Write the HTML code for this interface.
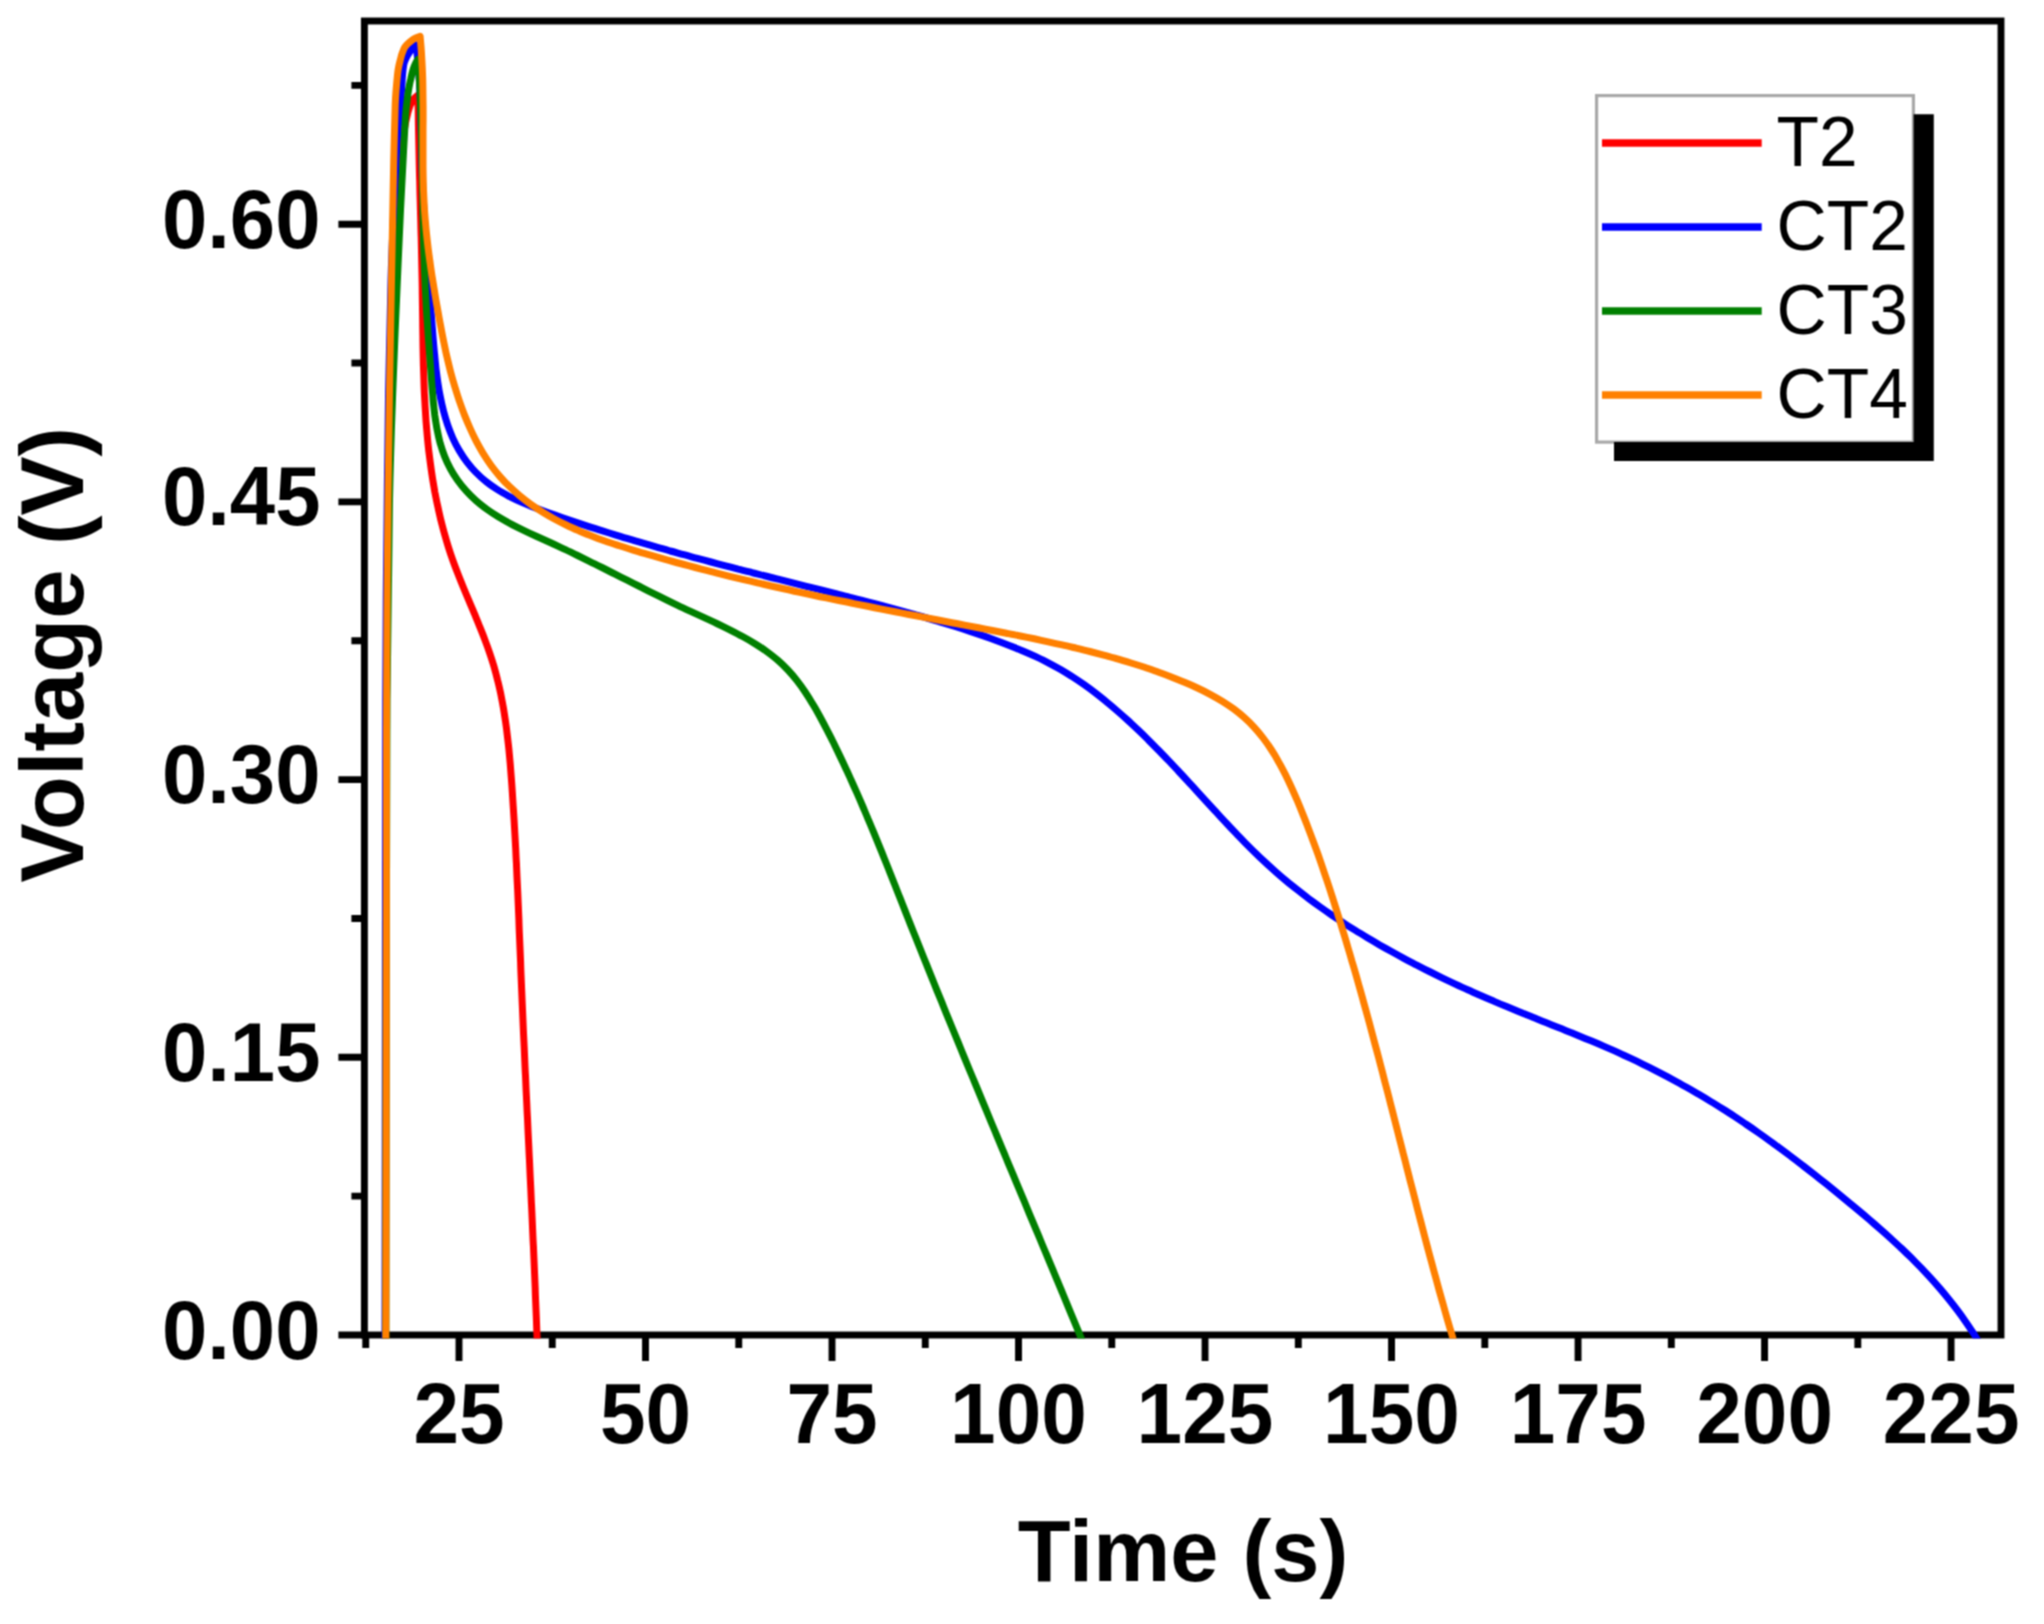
<!DOCTYPE html>
<html lang="en"><head><meta charset="utf-8"><title>Voltage vs Time</title>
<style>
html,body{margin:0;padding:0;background:#fff;}
body{width:2044px;height:1624px;overflow:hidden;}
svg{display:block;}
text{font-family:"Liberation Sans",Arial,Helvetica,sans-serif;fill:#000;}
.tick{font-weight:bold;font-size:82.0px;}
.ytick{font-weight:bold;font-size:81.5px;}
.xt{font-weight:bold;font-size:86.6px;}
.yt{font-weight:bold;font-size:88.5px;}
.leg{font-size:69.5px;}
</style></head><body>
<svg width="2044" height="1624" viewBox="0 0 2044 1624">
<rect x="0" y="0" width="2044" height="1624" fill="#fff"/>
<defs><filter id="soft" x="0" y="0" width="2044" height="1624" filterUnits="userSpaceOnUse" color-interpolation-filters="sRGB"><feConvolveMatrix order="3" kernelMatrix="1 2 1 2 4 2 1 2 1" divisor="16" edgeMode="duplicate" preserveAlpha="true"/></filter></defs>
<g filter="url(#soft)">
<rect x="0" y="0" width="2044" height="1624" fill="#fff"/>
<defs><clipPath id="plot"><rect x="360.9" y="17.6" width="1643.5" height="1320.9"/></clipPath></defs>
<g stroke="#000" fill="none" stroke-linecap="butt">
<rect x="364.40" y="21.00" width="1636.60" height="1314.00" stroke-width="6.90"/>
<path stroke-width="6.90" d="M459.00 1335.00V1361.00M645.51 1335.00V1361.00M832.02 1335.00V1361.00M1018.53 1335.00V1361.00M1205.04 1335.00V1361.00M1391.55 1335.00V1361.00M1578.06 1335.00V1361.00M1764.57 1335.00V1361.00M1951.08 1335.00V1361.00M365.75 1335.00V1348.00M552.25 1335.00V1348.00M738.76 1335.00V1348.00M925.27 1335.00V1348.00M1111.78 1335.00V1348.00M1298.30 1335.00V1348.00M1484.80 1335.00V1348.00M1671.32 1335.00V1348.00M1857.82 1335.00V1348.00M364.40 1335.00H338.40M364.40 1057.30H338.40M364.40 779.60H338.40M364.40 501.90H338.40M364.40 224.20H338.40M364.40 1196.15H351.40M364.40 918.45H351.40M364.40 640.75H351.40M364.40 363.05H351.40M364.40 85.35H351.40"/>
</g>
<g clip-path="url(#plot)" fill="none" stroke-width="7.00" stroke-linejoin="round" stroke-linecap="butt">
<path stroke="#ff0000" d="M385.6 1345.0C385.7 1287.5 385.8 1107.5 386.0 1000.0C386.2 892.5 386.3 780.0 386.6 700.0C386.9 620.0 387.4 571.7 388.0 520.0C388.6 468.3 389.6 426.7 390.5 390.0C391.4 353.3 392.4 328.3 393.5 300.0C394.6 271.7 395.8 242.5 397.0 220.0C398.2 197.5 399.3 179.7 400.5 165.0C401.7 150.3 402.8 140.8 404.0 132.0C405.2 123.2 406.6 117.2 408.0 112.0C409.4 106.8 410.9 103.2 412.5 100.5C414.1 97.8 416.7 96.3 417.5 95.5C417.6 97.9 418.0 105.0 418.2 109.7C418.3 114.4 418.3 119.2 418.4 123.9C418.5 128.7 418.6 133.4 418.7 138.1C418.8 142.9 418.9 147.6 419.0 152.3C419.1 157.0 419.2 161.8 419.3 166.5C419.4 171.2 419.5 175.9 419.7 180.6C419.8 185.4 419.9 190.1 420.0 194.8C420.2 199.5 420.3 204.2 420.4 208.9C420.5 213.6 420.7 218.4 420.8 223.1C420.9 227.8 421.0 232.5 421.2 237.2C421.3 241.9 421.4 246.7 421.5 251.4C421.6 256.1 421.7 260.8 421.8 265.6C421.9 270.3 422.0 275.0 422.1 279.7C422.2 284.5 422.3 289.2 422.3 293.9C422.4 298.7 422.4 303.4 422.5 308.2C422.6 312.9 422.6 317.7 422.7 322.4C422.7 327.2 422.8 331.9 422.9 336.7C422.9 341.4 423.0 346.2 423.1 350.9C423.2 355.7 423.3 360.4 423.4 365.2C423.6 369.9 423.7 374.7 423.9 379.4C424.0 384.2 424.2 388.9 424.4 393.6C424.7 398.4 424.9 403.1 425.2 407.8C425.5 412.6 425.8 417.3 426.1 422.0C426.5 426.7 426.9 431.5 427.3 436.2C427.7 440.9 428.2 445.6 428.7 450.3C429.3 455.0 429.9 459.7 430.5 464.3C431.1 469.0 431.8 473.7 432.5 478.3C433.3 483.0 434.1 487.6 434.9 492.3C435.8 496.9 436.7 501.5 437.7 506.1C438.7 510.7 439.7 515.3 440.8 519.9C442.0 524.5 443.1 529.0 444.4 533.5C445.7 538.1 447.0 542.6 448.4 547.1C449.8 551.6 451.3 556.1 452.9 560.5C454.5 565.0 456.2 569.4 457.9 573.8C459.6 578.2 461.4 582.6 463.2 587.0C465.0 591.4 466.8 595.7 468.7 600.1C470.5 604.5 472.4 608.9 474.2 613.2C476.0 617.6 477.9 622.0 479.6 626.4C481.4 630.8 483.2 635.2 484.8 639.6C486.5 644.0 488.1 648.4 489.6 652.9C491.1 657.3 492.6 661.8 493.9 666.3C495.2 670.8 496.4 675.3 497.5 679.9C498.7 684.4 499.7 689.0 500.7 693.6C501.6 698.2 502.5 702.8 503.3 707.4C504.1 712.0 504.8 716.7 505.5 721.3C506.2 726.0 506.8 730.7 507.3 735.3C507.9 740.0 508.4 744.7 508.9 749.4C509.3 754.1 509.8 758.8 510.2 763.5C510.6 768.3 510.9 773.0 511.3 777.7C511.7 782.4 512.0 787.2 512.3 791.9C512.6 796.6 512.9 801.3 513.2 806.1C513.5 810.8 513.8 815.5 514.1 820.3C514.4 825.0 514.6 829.7 514.9 834.4C515.2 839.2 515.4 843.9 515.7 848.6C515.9 853.4 516.1 858.1 516.4 862.8C516.6 867.6 516.8 872.3 517.0 877.0C517.2 881.8 517.5 886.5 517.7 891.2C517.9 896.0 518.1 900.7 518.3 905.4C518.5 910.2 518.7 914.9 518.9 919.7C519.0 924.4 519.2 929.1 519.4 933.9C519.6 938.6 519.8 943.3 520.0 948.0C520.2 952.8 520.4 957.5 520.6 962.2C520.7 967.0 520.9 971.7 521.1 976.4C521.3 981.2 521.5 985.9 521.7 990.6C521.9 995.4 522.1 1000.1 522.3 1004.8C522.5 1009.5 522.7 1014.3 522.9 1019.0C523.1 1023.7 523.3 1028.4 523.5 1033.2C523.7 1037.9 524.0 1042.6 524.2 1047.3C524.4 1052.1 524.6 1056.8 524.8 1061.5C525.0 1066.2 525.2 1071.0 525.5 1075.7C525.7 1080.4 525.9 1085.1 526.1 1089.9C526.3 1094.6 526.6 1099.3 526.8 1104.0C527.0 1108.7 527.2 1113.5 527.5 1118.2C527.7 1122.9 527.9 1127.6 528.1 1132.3C528.3 1137.1 528.6 1141.8 528.8 1146.5C529.0 1151.2 529.2 1156.0 529.5 1160.7C529.7 1165.4 529.9 1170.1 530.1 1174.8C530.3 1179.6 530.6 1184.3 530.8 1189.0C531.0 1193.7 531.2 1198.5 531.4 1203.2C531.7 1207.9 531.9 1212.6 532.1 1217.3C532.3 1222.1 532.5 1226.8 532.7 1231.5C532.9 1236.2 533.1 1241.0 533.4 1245.7C533.6 1250.4 533.8 1255.1 534.0 1259.9C534.2 1264.6 534.4 1269.3 534.6 1274.1C534.8 1278.8 535.0 1283.5 535.2 1288.2C535.3 1293.0 535.5 1297.7 535.7 1302.4C535.9 1307.2 536.1 1311.9 536.3 1316.6C536.5 1321.4 536.6 1326.1 536.8 1330.8C537.0 1335.6 537.2 1342.7 537.3 1345.0"/>
<path stroke="#0000ff" d="M385.0 1345.0C385.1 1287.5 385.3 1107.5 385.4 1000.0C385.5 892.5 385.5 775.0 385.7 700.0C385.9 625.0 386.2 601.7 386.7 550.0C387.2 498.3 387.9 435.0 388.6 390.0C389.3 345.0 390.1 311.7 391.0 280.0C391.9 248.3 393.2 223.3 394.2 200.0C395.2 176.7 396.1 156.7 397.2 140.0C398.3 123.3 399.9 111.0 400.8 100.0C401.7 89.0 402.1 80.2 402.6 74.3C403.1 68.4 403.3 67.0 403.8 64.4C404.3 61.9 404.9 60.7 405.7 59.0C406.5 57.3 407.3 55.8 408.4 54.0C409.5 52.2 411.0 49.7 412.2 48.2C413.4 46.7 415.2 45.5 415.8 44.9C416.1 47.2 417.2 54.2 417.7 58.8C418.2 63.5 418.5 68.2 418.9 72.9C419.2 77.5 419.5 82.2 419.7 86.9C420.0 91.6 420.2 96.3 420.4 101.1C420.6 105.8 420.7 110.5 420.8 115.2C421.0 119.9 421.1 124.6 421.2 129.4C421.3 134.1 421.4 138.8 421.5 143.5C421.6 148.3 421.7 153.0 421.8 157.7C421.9 162.4 422.0 167.1 422.2 171.9C422.3 176.6 422.5 181.3 422.7 186.0C422.9 190.7 423.1 195.4 423.4 200.1C423.6 204.8 423.9 209.4 424.1 214.1C424.4 218.8 424.7 223.5 425.0 228.1C425.3 232.8 425.6 237.5 426.0 242.1C426.3 246.8 426.6 251.5 427.0 256.1C427.3 260.8 427.6 265.4 428.0 270.1C428.3 274.7 428.7 279.4 429.0 284.0C429.3 288.7 429.7 293.3 430.0 298.0C430.4 302.6 430.7 307.3 431.1 312.0C431.4 316.6 431.8 321.3 432.2 326.0C432.6 330.7 432.9 335.4 433.3 340.2C433.7 344.9 434.1 349.7 434.6 354.4C435.0 359.2 435.5 364.0 436.0 368.8C436.6 373.6 437.2 378.3 437.9 383.1C438.6 387.9 439.4 392.6 440.4 397.3C441.3 402.0 442.4 406.8 443.6 411.4C444.8 416.0 446.2 420.6 447.7 425.1C449.3 429.6 451.0 434.0 452.9 438.3C454.8 442.5 457.0 446.7 459.3 450.6C461.7 454.6 464.2 458.4 467.0 462.1C469.8 465.7 472.7 469.2 475.9 472.4C479.1 475.7 482.4 478.7 486.0 481.5C489.5 484.4 493.3 487.0 497.1 489.4C501.0 491.9 505.0 494.1 509.1 496.3C513.3 498.4 517.5 500.4 521.8 502.3C526.1 504.2 530.6 506.0 535.0 507.7C539.4 509.4 543.9 511.1 548.4 512.7C552.9 514.3 557.4 515.9 561.9 517.5C566.4 519.0 570.9 520.6 575.4 522.1C579.9 523.6 584.4 525.1 588.9 526.6C593.4 528.0 597.9 529.5 602.5 530.9C607.0 532.3 611.5 533.7 616.0 535.1C620.5 536.5 625.0 537.9 629.5 539.2C634.1 540.6 638.6 541.9 643.1 543.2C647.6 544.6 652.1 545.9 656.7 547.2C661.2 548.4 665.7 549.7 670.2 551.0C674.8 552.2 679.3 553.5 683.8 554.7C688.3 556.0 692.9 557.2 697.4 558.4C701.9 559.6 706.5 560.8 711.0 562.0C715.5 563.2 720.1 564.4 724.6 565.6C729.1 566.7 733.7 567.9 738.2 569.1C742.8 570.2 747.3 571.4 751.9 572.6C756.4 573.7 760.9 574.9 765.5 576.0C770.0 577.2 774.6 578.3 779.1 579.4C783.7 580.6 788.2 581.7 792.8 582.9C797.3 584.0 801.9 585.2 806.4 586.3C811.0 587.4 815.6 588.6 820.1 589.7C824.7 590.9 829.2 592.0 833.8 593.2C838.4 594.3 842.9 595.5 847.5 596.7C852.0 597.8 856.6 599.0 861.2 600.2C865.7 601.4 870.3 602.6 874.9 603.7C879.5 604.9 884.0 606.1 888.6 607.4C893.2 608.6 897.7 609.8 902.3 611.1C906.8 612.3 911.4 613.6 915.9 614.9C920.5 616.1 925.0 617.4 929.6 618.8C934.1 620.1 938.6 621.4 943.2 622.8C947.7 624.2 952.2 625.6 956.7 627.0C961.2 628.4 965.7 629.9 970.1 631.4C974.6 632.9 979.1 634.4 983.5 635.9C987.9 637.5 992.4 639.1 996.8 640.7C1001.2 642.3 1005.6 644.0 1009.9 645.7C1014.3 647.4 1018.6 649.2 1022.9 651.0C1027.2 652.8 1031.5 654.7 1035.8 656.7C1040.0 658.7 1044.2 660.7 1048.3 662.8C1052.5 665.0 1056.6 667.2 1060.6 669.5C1064.6 671.9 1068.6 674.3 1072.6 676.9C1076.5 679.4 1080.3 682.0 1084.2 684.7C1088.0 687.4 1091.8 690.2 1095.5 693.1C1099.2 696.0 1102.9 698.9 1106.5 701.9C1110.2 704.9 1113.8 707.9 1117.3 711.0C1120.9 714.1 1124.4 717.2 1127.9 720.4C1131.3 723.6 1134.8 726.8 1138.2 730.1C1141.6 733.3 1145.0 736.6 1148.3 739.9C1151.7 743.3 1155.0 746.6 1158.3 750.0C1161.6 753.4 1164.9 756.8 1168.1 760.2C1171.4 763.6 1174.6 767.0 1177.9 770.5C1181.1 773.9 1184.3 777.4 1187.5 780.9C1190.7 784.3 1193.9 787.8 1197.1 791.3C1200.3 794.8 1203.5 798.3 1206.7 801.8C1209.9 805.3 1213.1 808.8 1216.3 812.2C1219.4 815.7 1222.6 819.2 1225.9 822.6C1229.1 826.1 1232.3 829.5 1235.6 832.9C1238.8 836.3 1242.1 839.7 1245.4 843.1C1248.7 846.4 1252.0 849.7 1255.4 853.0C1258.7 856.3 1262.1 859.5 1265.6 862.7C1269.0 865.9 1272.5 869.0 1276.0 872.1C1279.5 875.2 1283.1 878.3 1286.7 881.3C1290.3 884.3 1294.0 887.2 1297.7 890.1C1301.3 893.0 1305.1 895.9 1308.8 898.7C1312.6 901.5 1316.4 904.2 1320.2 907.0C1324.0 909.7 1327.9 912.4 1331.7 915.0C1335.6 917.6 1339.5 920.2 1343.5 922.8C1347.4 925.4 1351.4 927.9 1355.4 930.4C1359.4 932.9 1363.4 935.3 1367.4 937.7C1371.5 940.1 1375.5 942.5 1379.6 944.9C1383.7 947.2 1387.8 949.5 1391.9 951.8C1396.0 954.1 1400.2 956.4 1404.3 958.6C1408.5 960.8 1412.6 963.0 1416.8 965.1C1421.0 967.3 1425.2 969.4 1429.4 971.5C1433.6 973.6 1437.8 975.7 1442.1 977.8C1446.3 979.8 1450.6 981.8 1454.8 983.8C1459.1 985.8 1463.4 987.8 1467.7 989.7C1472.0 991.7 1476.3 993.6 1480.6 995.5C1484.9 997.4 1489.2 999.3 1493.6 1001.1C1497.9 1003.0 1502.2 1004.8 1506.6 1006.6C1510.9 1008.4 1515.3 1010.2 1519.7 1012.0C1524.0 1013.8 1528.4 1015.5 1532.8 1017.3C1537.1 1019.0 1541.5 1020.8 1545.9 1022.5C1550.3 1024.3 1554.6 1026.0 1559.0 1027.8C1563.4 1029.5 1567.7 1031.3 1572.1 1033.0C1576.4 1034.8 1580.8 1036.6 1585.1 1038.4C1589.5 1040.2 1593.8 1042.0 1598.2 1043.8C1602.5 1045.7 1606.8 1047.5 1611.1 1049.4C1615.4 1051.3 1619.7 1053.3 1623.9 1055.2C1628.2 1057.2 1632.4 1059.2 1636.7 1061.2C1640.9 1063.3 1645.1 1065.3 1649.3 1067.4C1653.5 1069.6 1657.7 1071.7 1661.9 1073.9C1666.0 1076.0 1670.2 1078.2 1674.3 1080.5C1678.4 1082.7 1682.5 1085.0 1686.6 1087.3C1690.7 1089.6 1694.8 1092.0 1698.8 1094.3C1702.9 1096.7 1706.9 1099.1 1710.9 1101.6C1714.9 1104.0 1718.9 1106.5 1722.9 1109.0C1726.9 1111.5 1730.8 1114.1 1734.8 1116.6C1738.7 1119.2 1742.6 1121.8 1746.5 1124.5C1750.4 1127.1 1754.3 1129.8 1758.1 1132.5C1762.0 1135.2 1765.8 1137.9 1769.6 1140.7C1773.4 1143.4 1777.2 1146.2 1781.0 1149.0C1784.8 1151.8 1788.6 1154.6 1792.3 1157.5C1796.1 1160.3 1799.8 1163.2 1803.6 1166.1C1807.3 1169.0 1811.0 1171.9 1814.7 1174.8C1818.4 1177.7 1822.1 1180.7 1825.8 1183.6C1829.5 1186.6 1833.1 1189.5 1836.8 1192.5C1840.4 1195.5 1844.1 1198.5 1847.7 1201.5C1851.4 1204.5 1855.0 1207.5 1858.6 1210.5C1862.2 1213.5 1865.8 1216.6 1869.4 1219.6C1872.9 1222.7 1876.5 1225.8 1880.0 1228.9C1883.6 1232.0 1887.1 1235.1 1890.5 1238.3C1894.0 1241.5 1897.4 1244.6 1900.9 1247.9C1904.3 1251.1 1907.6 1254.3 1911.0 1257.6C1914.3 1260.9 1917.6 1264.3 1920.9 1267.6C1924.1 1271.0 1927.3 1274.4 1930.5 1277.9C1933.6 1281.3 1936.7 1284.8 1939.8 1288.4C1942.9 1292.0 1945.9 1295.6 1948.8 1299.2C1951.8 1302.9 1954.7 1306.6 1957.5 1310.4C1960.3 1314.1 1963.1 1318.0 1965.8 1321.9C1968.5 1325.7 1971.1 1329.7 1973.7 1333.7C1976.2 1337.7 1979.9 1344.0 1981.1 1346.0"/>
<path stroke="#008000" d="M385.8 1345.0C385.9 1287.5 386.0 1107.5 386.2 1000.0C386.4 892.5 386.4 783.3 387.0 700.0C387.6 616.7 388.5 552.5 389.5 500.0C390.5 447.5 391.8 418.3 393.0 385.0C394.2 351.7 395.2 329.2 396.5 300.0C397.8 270.8 399.3 235.0 400.5 210.0C401.7 185.0 402.8 165.8 403.6 150.0C404.5 134.2 405.0 123.5 405.6 115.0C406.2 106.5 406.8 103.3 407.3 99.0C407.8 94.7 408.1 92.3 408.7 89.0C409.3 85.7 409.9 82.5 410.7 79.2C411.4 75.9 412.4 72.0 413.2 69.3C414.0 66.6 414.8 64.9 415.6 63.3C416.4 61.7 417.4 60.1 417.8 59.5C418.0 61.9 418.6 68.9 419.0 73.6C419.3 78.4 419.5 83.1 419.8 87.8C420.0 92.5 420.2 97.3 420.4 102.0C420.6 106.7 420.8 111.5 420.9 116.2C421.1 121.0 421.2 125.7 421.4 130.4C421.5 135.2 421.6 139.9 421.7 144.7C421.8 149.4 421.9 154.2 422.0 158.9C422.1 163.7 422.2 168.4 422.3 173.2C422.4 177.9 422.4 182.6 422.5 187.4C422.6 192.1 422.7 196.9 422.8 201.6C422.8 206.4 422.9 211.1 423.0 215.8C423.1 220.6 423.2 225.3 423.3 230.0C423.4 234.8 423.5 239.5 423.6 244.2C423.8 249.0 423.9 253.7 424.1 258.4C424.2 263.1 424.4 267.8 424.6 272.5C424.8 277.2 425.0 281.9 425.2 286.6C425.5 291.3 425.7 296.0 426.0 300.7C426.2 305.4 426.5 310.1 426.8 314.8C427.1 319.5 427.5 324.2 427.8 328.9C428.1 333.6 428.4 338.4 428.8 343.1C429.1 347.8 429.5 352.6 429.8 357.3C430.2 362.1 430.6 366.9 430.9 371.7C431.3 376.5 431.6 381.4 432.0 386.2C432.4 391.1 432.8 395.9 433.2 400.8C433.7 405.6 434.2 410.5 434.8 415.3C435.5 420.0 436.2 424.8 437.1 429.5C438.0 434.1 439.0 438.8 440.2 443.3C441.5 447.7 442.9 452.2 444.6 456.4C446.3 460.7 448.2 464.8 450.4 468.8C452.5 472.8 455.0 476.6 457.6 480.3C460.2 484.0 463.1 487.5 466.2 490.9C469.2 494.3 472.5 497.5 476.0 500.6C479.4 503.6 483.1 506.5 486.9 509.3C490.6 512.0 494.6 514.6 498.7 517.1C502.7 519.5 506.9 521.9 511.2 524.1C515.4 526.4 519.8 528.5 524.2 530.6C528.5 532.7 533.0 534.8 537.4 536.8C541.8 538.8 546.3 540.8 550.7 542.8C555.1 544.8 559.4 546.9 563.7 548.9C568.1 550.9 572.4 553.0 576.6 555.0C580.9 557.1 585.2 559.2 589.4 561.3C593.6 563.3 597.8 565.4 602.0 567.5C606.2 569.6 610.4 571.7 614.6 573.9C618.8 576.0 622.9 578.1 627.1 580.2C631.3 582.3 635.5 584.4 639.7 586.5C643.8 588.6 648.0 590.8 652.2 592.9C656.4 594.9 660.7 597.0 664.9 599.1C669.1 601.2 673.4 603.3 677.7 605.3C682.0 607.4 686.3 609.4 690.6 611.4C695.0 613.4 699.3 615.4 703.7 617.4C708.1 619.4 712.4 621.5 716.8 623.5C721.1 625.6 725.5 627.7 729.8 629.8C734.1 632.0 738.4 634.2 742.6 636.5C746.8 638.8 751.0 641.2 755.0 643.7C759.0 646.2 763.0 648.8 766.7 651.5C770.5 654.3 774.2 657.1 777.7 660.2C781.2 663.2 784.5 666.5 787.7 669.8C790.9 673.2 793.9 676.7 796.8 680.4C799.6 684.0 802.4 687.8 805.0 691.7C807.6 695.6 810.1 699.6 812.5 703.7C815.0 707.7 817.3 711.8 819.6 716.0C821.9 720.2 824.1 724.4 826.3 728.6C828.5 732.8 830.6 737.1 832.8 741.3C834.9 745.6 837.0 749.9 839.0 754.1C841.1 758.4 843.1 762.7 845.1 767.0C847.2 771.3 849.1 775.6 851.1 780.0C853.0 784.3 855.0 788.6 856.9 792.9C858.8 797.3 860.7 801.6 862.6 806.0C864.4 810.3 866.3 814.7 868.1 819.1C870.0 823.4 871.8 827.8 873.6 832.2C875.4 836.6 877.2 841.0 879.0 845.4C880.8 849.7 882.6 854.1 884.3 858.5C886.1 862.9 887.9 867.3 889.6 871.7C891.4 876.1 893.1 880.5 894.9 885.0C896.6 889.4 898.3 893.8 900.1 898.2C901.8 902.6 903.6 907.0 905.3 911.4C907.0 915.8 908.8 920.2 910.5 924.6C912.3 929.0 914.0 933.4 915.8 937.8C917.5 942.2 919.3 946.6 921.1 951.0C922.8 955.4 924.6 959.8 926.4 964.2C928.1 968.6 929.9 973.0 931.7 977.4C933.5 981.8 935.2 986.2 937.0 990.6C938.8 995.0 940.6 999.3 942.4 1003.7C944.1 1008.1 945.9 1012.5 947.7 1016.9C949.5 1021.3 951.3 1025.7 953.1 1030.0C954.9 1034.4 956.7 1038.8 958.5 1043.2C960.3 1047.6 962.1 1051.9 963.9 1056.3C965.7 1060.7 967.5 1065.1 969.3 1069.5C971.1 1073.8 973.0 1078.2 974.8 1082.6C976.6 1087.0 978.4 1091.4 980.2 1095.7C982.0 1100.1 983.8 1104.5 985.7 1108.9C987.5 1113.2 989.3 1117.6 991.1 1122.0C992.9 1126.3 994.8 1130.7 996.6 1135.1C998.4 1139.5 1000.2 1143.8 1002.0 1148.2C1003.9 1152.6 1005.7 1157.0 1007.5 1161.3C1009.3 1165.7 1011.2 1170.1 1013.0 1174.4C1014.8 1178.8 1016.6 1183.2 1018.5 1187.6C1020.3 1191.9 1022.1 1196.3 1024.0 1200.7C1025.8 1205.0 1027.6 1209.4 1029.4 1213.8C1031.3 1218.2 1033.1 1222.5 1034.9 1226.9C1036.7 1231.3 1038.6 1235.6 1040.4 1240.0C1042.2 1244.4 1044.0 1248.8 1045.9 1253.1C1047.7 1257.5 1049.5 1261.9 1051.3 1266.2C1053.2 1270.6 1055.0 1275.0 1056.8 1279.4C1058.6 1283.7 1060.4 1288.1 1062.3 1292.5C1064.1 1296.9 1065.9 1301.3 1067.7 1305.6C1069.5 1310.0 1071.3 1314.4 1073.2 1318.8C1075.0 1323.1 1076.8 1327.5 1078.6 1331.9C1080.4 1336.3 1083.1 1342.9 1084.0 1345.0"/>
<path stroke="#ff8000" d="M385.8 1345.0C385.9 1270.8 386.3 1007.5 386.4 900.0C386.5 792.5 386.4 758.3 386.6 700.0C386.8 641.7 387.0 601.7 387.5 550.0C388.0 498.3 388.8 435.0 389.5 390.0C390.2 345.0 390.9 311.7 391.5 280.0C392.1 248.3 392.6 221.7 393.0 200.0C393.4 178.3 393.6 165.8 394.0 150.0C394.4 134.2 394.8 115.2 395.2 105.0C395.6 94.8 395.7 95.0 396.2 89.0C396.7 83.0 397.4 74.5 398.2 69.3C399.0 64.1 400.1 60.9 400.8 58.0C401.5 55.1 401.9 53.9 402.6 52.1C403.3 50.3 403.9 48.6 404.8 47.2C405.7 45.8 406.8 44.6 408.0 43.5C409.2 42.4 410.6 41.2 411.9 40.3C413.2 39.3 414.5 38.5 415.9 37.8C417.3 37.1 419.4 36.5 420.1 36.3C420.3 38.7 421.0 45.7 421.3 50.4C421.6 55.1 421.9 59.8 422.1 64.5C422.4 69.2 422.5 74.0 422.7 78.7C422.8 83.4 422.9 88.1 422.9 92.8C423.0 97.6 423.0 102.3 423.1 107.0C423.1 111.8 423.1 116.5 423.1 121.2C423.0 126.0 423.0 130.7 423.0 135.4C423.0 140.2 423.0 144.9 423.0 149.6C423.0 154.4 423.0 159.1 423.0 163.8C423.0 168.6 423.1 173.3 423.2 178.0C423.3 182.8 423.4 187.5 423.6 192.2C423.8 196.9 424.0 201.6 424.3 206.4C424.5 211.1 424.9 215.8 425.3 220.5C425.7 225.2 426.1 229.9 426.6 234.6C427.1 239.2 427.6 243.9 428.2 248.6C428.8 253.3 429.4 258.0 430.1 262.6C430.7 267.3 431.4 271.9 432.1 276.6C432.9 281.3 433.6 285.9 434.4 290.5C435.1 295.2 435.9 299.8 436.7 304.4C437.6 309.1 438.4 313.7 439.2 318.3C440.1 322.9 440.9 327.5 441.8 332.1C442.7 336.7 443.6 341.3 444.6 345.9C445.5 350.5 446.5 355.1 447.6 359.6C448.7 364.2 449.8 368.8 451.0 373.4C452.2 378.0 453.5 382.5 454.9 387.1C456.3 391.7 457.7 396.3 459.3 400.9C460.9 405.4 462.5 410.0 464.3 414.6C466.1 419.1 468.0 423.7 470.0 428.1C472.0 432.6 474.1 437.0 476.3 441.3C478.6 445.5 480.9 449.8 483.4 453.8C485.9 457.9 488.6 461.9 491.3 465.7C494.1 469.5 497.0 473.1 500.0 476.6C503.0 480.1 506.2 483.4 509.5 486.6C512.8 489.8 516.2 492.8 519.7 495.7C523.2 498.6 526.8 501.4 530.5 504.1C534.2 506.8 538.1 509.3 542.0 511.7C545.9 514.1 549.9 516.5 553.9 518.7C558.0 520.9 562.1 523.0 566.3 525.0C570.5 527.1 574.8 529.0 579.1 530.9C583.5 532.7 587.9 534.5 592.3 536.2C596.7 538.0 601.2 539.6 605.7 541.2C610.2 542.8 614.8 544.3 619.3 545.8C623.9 547.3 628.5 548.7 633.1 550.1C637.7 551.5 642.3 552.9 646.9 554.2C651.5 555.6 656.1 556.9 660.8 558.2C665.4 559.5 670.0 560.8 674.6 562.0C679.2 563.3 683.8 564.5 688.4 565.7C693.0 567.0 697.6 568.2 702.2 569.3C706.8 570.5 711.4 571.7 716.0 572.8C720.6 574.0 725.2 575.1 729.8 576.3C734.4 577.4 739.0 578.5 743.6 579.6C748.2 580.7 752.8 581.7 757.4 582.8C762.0 583.9 766.6 584.9 771.1 586.0C775.7 587.0 780.3 588.0 784.9 589.0C789.5 590.1 794.1 591.1 798.7 592.1C803.3 593.1 807.9 594.0 812.5 595.0C817.0 596.0 821.6 597.0 826.2 597.9C830.8 598.9 835.4 599.8 840.0 600.8C844.6 601.7 849.2 602.6 853.8 603.6C858.4 604.5 863.0 605.4 867.6 606.3C872.2 607.2 876.8 608.2 881.4 609.1C886.0 610.0 890.6 610.9 895.2 611.8C899.8 612.7 904.4 613.6 909.0 614.5C913.6 615.4 918.3 616.2 922.9 617.1C927.5 618.0 932.1 618.9 936.7 619.8C941.4 620.7 946.0 621.6 950.6 622.5C955.3 623.3 959.9 624.2 964.5 625.1C969.2 626.0 973.8 626.9 978.4 627.8C983.1 628.7 987.7 629.6 992.4 630.5C997.0 631.4 1001.7 632.3 1006.4 633.2C1011.0 634.1 1015.7 635.0 1020.3 636.0C1025.0 636.9 1029.6 637.9 1034.3 638.8C1038.9 639.8 1043.6 640.8 1048.2 641.8C1052.9 642.8 1057.5 643.8 1062.2 644.9C1066.8 645.9 1071.4 647.0 1076.1 648.1C1080.7 649.2 1085.3 650.3 1089.9 651.5C1094.5 652.7 1099.1 653.9 1103.7 655.1C1108.3 656.3 1112.8 657.6 1117.4 658.9C1122.0 660.2 1126.5 661.6 1131.0 663.0C1135.6 664.4 1140.1 665.8 1144.6 667.3C1149.1 668.8 1153.5 670.4 1158.0 672.0C1162.5 673.6 1166.9 675.2 1171.3 676.9C1175.7 678.7 1180.1 680.4 1184.5 682.3C1188.9 684.1 1193.2 686.0 1197.5 688.0C1201.8 690.0 1206.0 692.1 1210.1 694.3C1214.2 696.5 1218.3 698.8 1222.2 701.2C1226.2 703.7 1230.0 706.2 1233.7 708.9C1237.4 711.7 1241.0 714.6 1244.4 717.6C1247.9 720.7 1251.1 723.9 1254.2 727.3C1257.4 730.7 1260.3 734.3 1263.1 738.0C1265.9 741.7 1268.6 745.5 1271.2 749.5C1273.8 753.4 1276.2 757.5 1278.5 761.7C1280.9 765.8 1283.1 770.1 1285.3 774.4C1287.4 778.7 1289.5 783.1 1291.5 787.5C1293.5 791.9 1295.4 796.3 1297.3 800.7C1299.2 805.2 1301.0 809.6 1302.8 814.1C1304.6 818.5 1306.3 823.0 1308.0 827.4C1309.7 831.8 1311.4 836.3 1313.0 840.7C1314.7 845.2 1316.3 849.6 1317.9 854.0C1319.4 858.5 1321.0 862.9 1322.5 867.4C1324.0 871.8 1325.5 876.3 1327.0 880.7C1328.5 885.2 1330.0 889.7 1331.4 894.1C1332.9 898.6 1334.3 903.1 1335.7 907.6C1337.1 912.1 1338.6 916.6 1339.9 921.1C1341.3 925.6 1342.7 930.1 1344.1 934.6C1345.5 939.1 1346.8 943.6 1348.1 948.1C1349.5 952.6 1350.8 957.1 1352.1 961.7C1353.5 966.2 1354.8 970.7 1356.1 975.2C1357.4 979.8 1358.6 984.3 1359.9 988.8C1361.2 993.4 1362.5 997.9 1363.7 1002.5C1365.0 1007.0 1366.2 1011.6 1367.5 1016.1C1368.7 1020.7 1370.0 1025.2 1371.2 1029.8C1372.4 1034.4 1373.6 1038.9 1374.8 1043.5C1376.1 1048.1 1377.3 1052.6 1378.5 1057.2C1379.7 1061.8 1380.9 1066.3 1382.1 1070.9C1383.3 1075.5 1384.4 1080.1 1385.6 1084.6C1386.8 1089.2 1388.0 1093.8 1389.2 1098.4C1390.3 1103.0 1391.5 1107.5 1392.7 1112.1C1393.9 1116.7 1395.0 1121.3 1396.2 1125.9C1397.4 1130.4 1398.5 1135.0 1399.7 1139.6C1400.9 1144.2 1402.1 1148.8 1403.2 1153.4C1404.4 1157.9 1405.6 1162.5 1406.7 1167.1C1407.9 1171.7 1409.1 1176.3 1410.2 1180.8C1411.4 1185.4 1412.6 1190.0 1413.8 1194.6C1415.0 1199.2 1416.1 1203.7 1417.3 1208.3C1418.5 1212.9 1419.7 1217.5 1420.9 1222.0C1422.1 1226.6 1423.3 1231.2 1424.5 1235.8C1425.7 1240.3 1426.9 1244.9 1428.1 1249.5C1429.3 1254.0 1430.6 1258.6 1431.8 1263.1C1433.0 1267.7 1434.2 1272.3 1435.5 1276.8C1436.7 1281.4 1438.0 1285.9 1439.2 1290.5C1440.5 1295.0 1441.8 1299.5 1443.1 1304.1C1444.3 1308.6 1445.6 1313.2 1446.9 1317.7C1448.2 1322.2 1449.5 1326.7 1450.9 1331.3C1452.2 1335.8 1454.2 1342.6 1454.9 1344.8"/>
</g>
<g class="tick" text-anchor="middle">
<text transform="translate(459.0 1443.0) scale(1 1.035)">25</text>
<text transform="translate(645.5 1443.0) scale(1 1.035)">50</text>
<text transform="translate(832.0 1443.0) scale(1 1.035)">75</text>
<text transform="translate(1018.5 1443.0) scale(1 1.035)">100</text>
<text transform="translate(1205.0 1443.0) scale(1 1.035)">125</text>
<text transform="translate(1391.5 1443.0) scale(1 1.035)">150</text>
<text transform="translate(1578.1 1443.0) scale(1 1.035)">175</text>
<text transform="translate(1764.6 1443.0) scale(1 1.035)">200</text>
<text transform="translate(1951.1 1443.0) scale(1 1.035)">225</text>
</g>
<g class="ytick" text-anchor="end">
<text transform="translate(320.5 1358.5) scale(1 1.035)">0.00</text>
<text transform="translate(320.5 1080.8) scale(1 1.035)">0.15</text>
<text transform="translate(320.5 803.1) scale(1 1.035)">0.30</text>
<text transform="translate(320.5 525.4) scale(1 1.035)">0.45</text>
<text transform="translate(320.5 247.7) scale(1 1.035)">0.60</text>
</g>
<text class="xt" text-anchor="middle" x="1183.0" y="1581.4">Time (s)</text>
<text class="yt" text-anchor="middle" transform="translate(83.2 654.8) rotate(-90)">Voltage (V)</text>
<rect x="1596.6" y="95.6" width="316.8" height="346.5" fill="#fff" stroke="#a8a8a8" stroke-width="3.2"/>
<path fill="#000" d="M1913.6 114.2H1933.8V461.0H1614.0V441.9H1913.6Z"/>
<g fill="none" stroke-width="7.4" stroke-linecap="butt">
<path stroke="#ff0000" d="M1602.0 143.0H1761.7"/>
<path stroke="#0000ff" d="M1602.0 227.0H1761.7"/>
<path stroke="#008000" d="M1602.0 311.0H1761.7"/>
<path stroke="#ff8000" d="M1602.0 395.0H1761.7"/>
</g>
<g class="leg">
<text transform="translate(1776.5 165.5) scale(1 1.020)">T2</text>
<text transform="translate(1776.5 249.5) scale(1 1.020)">CT2</text>
<text transform="translate(1776.5 333.5) scale(1 1.020)">CT3</text>
<text transform="translate(1776.5 417.5) scale(1 1.020)">CT4</text>
</g>
</g>
</svg>
</body></html>
